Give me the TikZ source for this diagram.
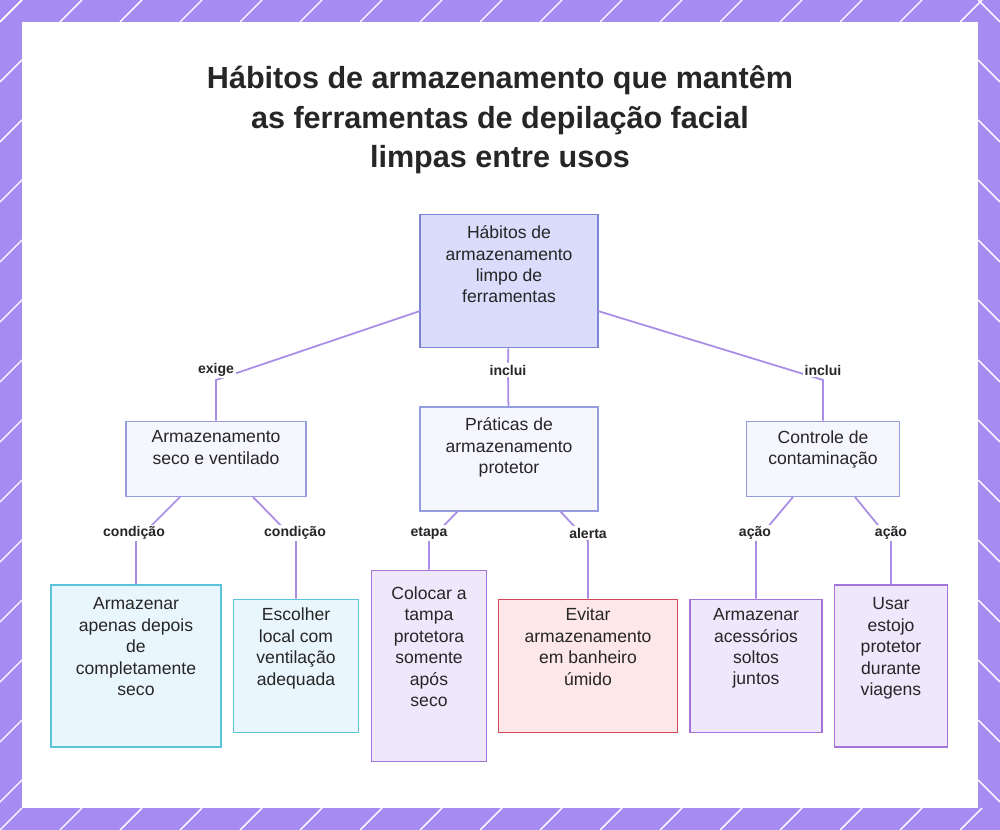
\documentclass[tikz,border=0pt]{standalone}
\usepackage{fontspec}
\setmainfont{Liberation Sans}
\usepackage{tikz}
\usetikzlibrary{positioning}
\definecolor{frame}{HTML}{A68BF2}
\definecolor{edgec}{HTML}{A98DE6}
\definecolor{rootfill}{HTML}{D9DCFB}
\definecolor{rootdraw}{HTML}{7C84D4}
\definecolor{midfill}{HTML}{F6F7FE}
\definecolor{cyanfill}{HTML}{EAF6FD}
\definecolor{cyandraw}{HTML}{5CC3DA}
\definecolor{purpfill}{HTML}{EFE7FC}
\definecolor{purpdraw}{HTML}{A474D8}
\definecolor{redfill}{HTML}{FDE7E8}
\definecolor{reddraw}{HTML}{D14557}
\tikzset{
  box/.style={draw, line width=1pt, align=center, inner sep=0pt, font=\fontsize{10}{12.2}\selectfont, text=black!85},
  root/.style={box, fill=rootfill, draw=rootdraw, text depth=19pt},
  mid/.style={box, fill=midfill, draw=rootdraw!80, text depth=13pt},
  leaf/.style={box, text depth=22pt},
  cyanleaf/.style={leaf, fill=cyanfill, draw=cyandraw},
  purpleaf/.style={leaf, fill=purpfill, draw=purpdraw},
  redleaf/.style={leaf, fill=redfill, draw=reddraw},
  lab/.style={fill=white, inner sep=1pt, font=\bfseries\fontsize{8}{9}\selectfont, text=black!85},
  link/.style={draw=edgec, line width=1pt}
}
\begin{document}
\begin{tikzpicture}[x=0.02cm,y=-0.02cm]
\useasboundingbox (0,0) rectangle (1000,830);
\fill[frame] (0,0) rectangle (1000,830);
\fill[white] (22,22) rectangle (978,808);
% corner strokes
\foreach \a in {0,60,...,960}
  \draw[white, line width=0.8pt] (\a,22) -- (\a+22,0) (\a,830) -- (\a+22,808);
\foreach \b in {0,60,...,780}
  \draw[white, line width=0.8pt] (0,\b+22) -- (22,\b) (978,\b) -- (1000,\b+22);

\node[align=center, font=\bfseries\fontsize{17.4}{22.5}\selectfont, text=black!85] (title) at (500,120)
  {Hábitos de armazenamento que mantêm\\as ferramentas de depilação facial\\limpas entre usos};

\node[root, minimum width=3.56cm, minimum height=2.66cm] (R) at (509,281)
  {Hábitos de\\armazenamento\\limpo de\\ferramentas};
\node[mid, minimum width=3.6cm, minimum height=1.5cm] (A) at (216,459) {Armazenamento\\seco e ventilado};
\node[mid, minimum width=3.56cm, minimum height=2.08cm, text depth=15pt] (B) at (509,459) {Práticas de\\armazenamento\\protetor};
\node[mid, minimum width=3.06cm, minimum height=1.5cm] (C) at (823,459) {Controle de\\contaminação};

\node[cyanleaf, minimum width=3.4cm, minimum height=3.24cm] (L1) at (136,666)
  {Armazenar\\apenas depois\\de\\completamente\\seco};
\node[cyanleaf, minimum width=2.5cm, minimum height=2.66cm] (L2) at (296,666)
  {Escolher\\local com\\ventilação\\adequada};
\node[purpleaf, minimum width=2.3cm, minimum height=3.82cm] (L3) at (429,666)
  {Colocar a\\tampa\\protetora\\somente\\após\\seco};
\node[redleaf, minimum width=3.58cm, minimum height=2.66cm] (L4) at (588,666)
  {Evitar\\armazenamento\\em banheiro\\úmido};
\node[purpleaf, minimum width=2.64cm, minimum height=2.66cm] (L5) at (756,666)
  {Armazenar\\acessórios\\soltos\\juntos};
\node[purpleaf, minimum width=2.26cm, minimum height=3.24cm] (L6) at (891,666)
  {Usar\\estojo\\protetor\\durante\\viagens};

\coordinate (r1) at (420,311);
\coordinate (r3) at (598,311);
\node[lab] (eA) at (216,370) {exige};
\node[lab] (eB) at (508,370) {inclui};
\node[lab] (eC) at (823,370) {inclui};
\node[lab] (e1) at (134,533) {condição};
\node[lab] (e2) at (295,533) {condição};
\node[lab] (e3) at (429,533) {etapa};
\node[lab] (e4) at (588,533) {alerta};
\node[lab] (e5) at (755,533) {ação};
\node[lab] (e6) at (891,533) {ação};

\path[link]
  (r1) -- (216,380) -- (A)
  (R) -- (eB) -- (B)
  (r3) -- (823,380) -- (C)
  (180,497) -- (136,541) -- (L1.north)
  (253,497) -- (296,541) -- (L2.north)
  (458,511) -- (429,541) -- (L3.north)
  (560,511) -- (588,541) -- (L4.north)
  (793,497) -- (756,541) -- (L5.north)
  (855,497) -- (891,541) -- (L6.north);
\node[lab] at (eA) {exige};
\node[lab] at (eB) {inclui};
\node[lab] at (eC) {inclui};
\node[lab] at (e1) {condição};
\node[lab] at (e2) {condição};
\node[lab] at (e3) {etapa};
\node[lab] at (e4) {alerta};
\node[lab] at (e5) {ação};
\node[lab] at (e6) {ação};
\end{tikzpicture}
\end{document}
